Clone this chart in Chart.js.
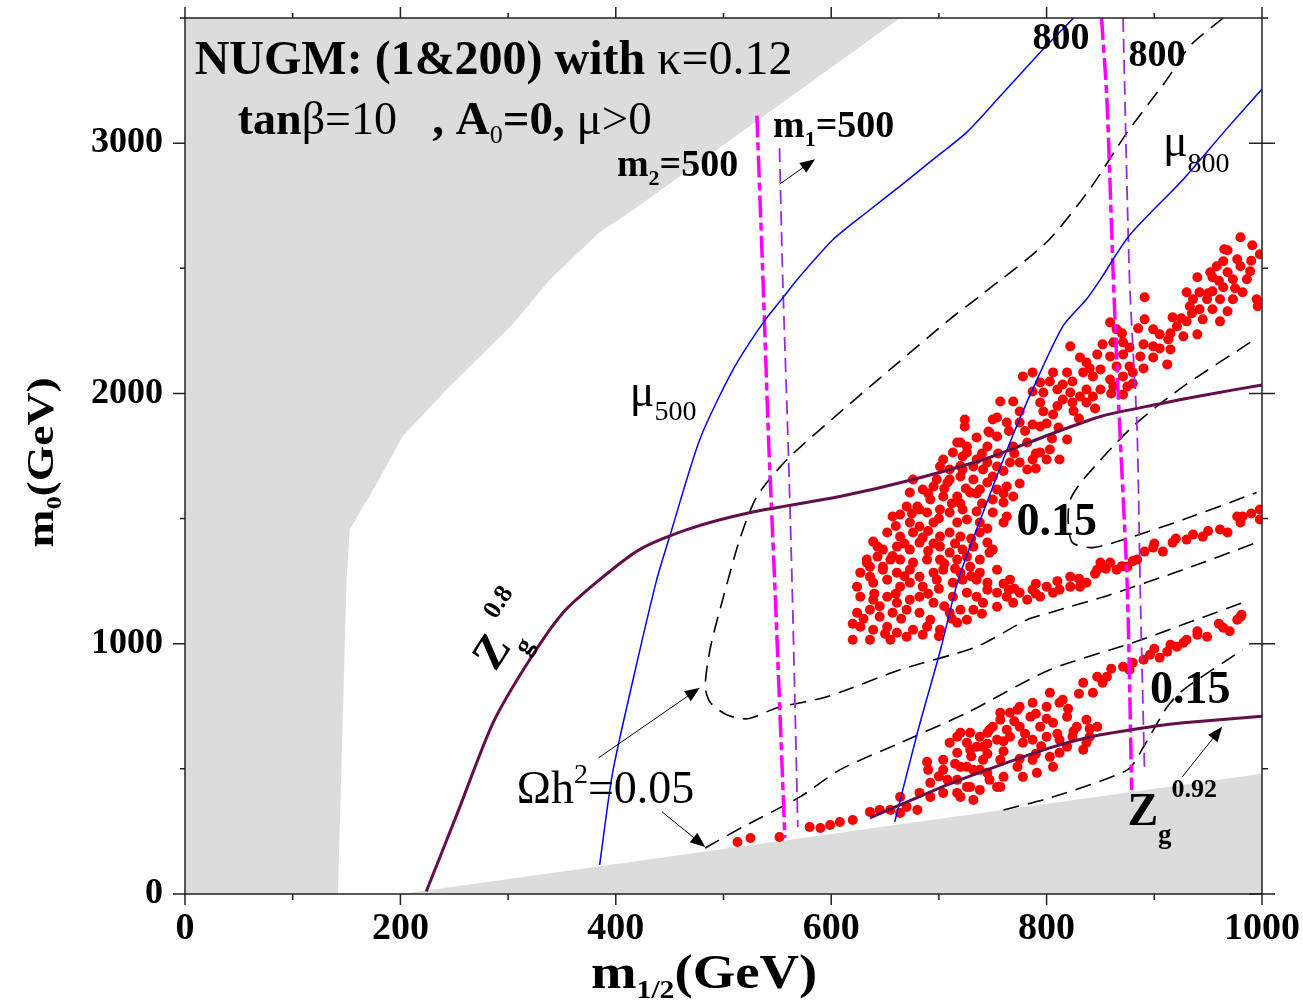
<!DOCTYPE html>
<html>
<head>
<meta charset="utf-8">
<title>NUGM m0 - m1/2 plane</title>
<script src="https://cdn.jsdelivr.net/npm/chart.js@4.4.1/dist/chart.umd.min.js"></script>
<style>
  html, body { margin: 0; padding: 0; background: #fff; }
  canvas { display: block; }
</style>
</head>
<body>
<canvas id="plane" width="1303" height="1006"></canvas>
<script>
// ---------- data (m1/2, m0) in GeV ----------

// excluded regions (grey)
const greyLeft = [[0,0],[142,0],[150,1256],[153,1456],[178,1640],[202,1828],[243,2016],[274,2148],[305,2280],[339,2456],[385,2644],[413,2724],[664,3500],[0,3500]];
const greyBottom = [[201,0],[1000,480],[1000,0]];

// mu contours
const mu500 = [[385,116],[397,484],[416,856],[438,1256],[450,1428],[478,1816],[509,2096],[537,2284],[554,2376],[571,2468],[602,2616],[633,2724],[664,2828],[695,2936],[726,3044],[757,3188],[797,3376],[825,3500]];
const mu800 = [[659,288],[680,644],[701,968],[718,1256],[741,1524],[766,1804],[787,2016],[815,2268],[837,2376],[850,2456],[877,2632],[927,2856],[967,3056],[1000,3216]];

// Z_g contours
const zg080 = [[224,10],[253,324],[286,684],[320,936],[351,1124],[385,1256],[422,1376],[466,1456],[525,1524],[608,1588],[676,1656],[747,1744],[803,1836],[850,1908],[902,1956],[950,1996],[1000,2034]];
const zg092 = [[636,304],[710,440],[760,520],[803,584],[850,636],[900,670],[927,684],[1000,710]];

// gaugino mass contours m2 (dash-dot) and m1 (dashed)
const m2at500 = [[531,3110],[537,2416],[542,1800],[548,1200],[557,224]];
const m1at500 = [[552,2980],[555,2456],[560,1800],[564,1188],[569,268]];
const m2at800 = [[851,3500],[856,3176],[862,2456],[868,1856],[875,1216],[879,416]];
const m1at800 = [[871,3500],[877,2456],[884,1856],[887,1204],[891,484]];

// relic density contours
const omegaA = [[964,3500],[933,3388],[912,3256],[875,3044],[840,2816],[800,2604],[740,2396],[710,2296],[657,2104],[608,1924],[559,1736],[531,1588],[515,1416],[500,1188],[488,988],[483,828],[488,764],[503,716],[522,700],[550,744],[596,788],[664,896],[735,988],[782,1096],[803,1124],[859,1196],[927,1296],[995,1404]];
const omegaB = [[483,184],[518,268],[571,388],[608,496],[664,604],[726,724],[803,896],[880,1004],[982,1164]];
const omegaC = [[760,336],[803,384],[875,496],[890,588],[912,748],[927,816],[982,976]];
const omegaU = [[989,2204],[927,2028],[880,1868],[834,1656],[822,1576],[820,1496],[824,1404],[843,1384],[877,1424],[927,1496],[995,1604]];

// scan points
const upperBand = [[980,2624],[991,2592],[998,2556],[968,2572],[965,2576],[977,2536],[964,2528],[958,2508],[952,2484],[968,2484],[980,2508],[989,2488],[940,2464],[954,2464],[973,2456],[986,2456],[930,2404],[942,2404],[954,2408],[964,2424],[982,2404],[936,2376],[949,2376],[961,2376],[973,2376],[995,2376],[996,2348],[933,2348],[942,2336],[954,2336],[968,2328],[891,2384],[917,2304],[930,2288],[945,2296],[961,2288],[891,2296],[899,2256],[921,2268],[927,2228],[940,2236],[905,2236],[913,2216],[890,2196],[899,2188],[915,2176],[887,2148],[899,2144],[912,2116],[859,2284],[865,2256],[852,2196],[862,2204],[871,2204],[877,2184],[847,2156],[859,2148],[871,2156],[865,2108],[877,2108],[880,2084],[871,2068],[859,2056],[875,2028],[862,2028],[871,1996],[850,2096],[837,2124],[831,2144],[843,2068],[834,2084],[824,2048],[815,2036],[822,2004],[837,2016],[850,2016],[837,1964],[843,1988],[831,1988],[819,2084],[822,2188],[806,2084],[803,2048],[810,2016],[794,2044],[797,2004],[778,2068],[787,2084],[787,2008],[769,1968],[757,1968],[775,1928],[794,1964],[797,1928],[806,1916],[815,1976],[824,1964],[754,1904],[763,1884],[775,1884],[787,1876],[794,1868],[811,1864],[819,1816],[724,1896],[724,1868],[746,1848],[754,1828],[735,1824],[717,1804],[726,1788],[745,1788],[769,1788],[782,1804],[794,1764],[803,1776],[800,1736],[812,1736],[787,1736],[775,1724],[782,1696],[704,1736],[713,1764],[722,1748],[735,1736],[745,1724],[701,1708],[710,1696],[722,1696],[732,1708],[741,1696],[754,1708],[766,1724],[750,1896],[747,1844],[720,1804],[726,1764],[708,1644],[695,1628],
  [720,1710],[760,1690],[790,1760],[805,1820],[830,1900],[845,1940],[860,2000],[880,2040],[890,2100],[905,2180],[925,2300],[950,2400],[960,2450],[975,2420],[990,2530],[935,2320],[915,2240],[870,2240],[885,2260],[840,2100],[825,1930],[810,1950],[800,1880],[780,1850],[765,1850],[740,1760],[755,1760],[790,1700],[770,1760]];

const blob = [[676,1656],[673,1604],[685,1616],[698,1656],[710,1656],[720,1668],[732,1656],[745,1644],[750,1668],[692,1576],[704,1588],[717,1588],[729,1604],[738,1616],[754,1616],[763,1628],[769,1588],[760,1564],[750,1576],[680,1548],[670,1548],[689,1524],[701,1536],[710,1524],[722,1536],[735,1528],[750,1524],[763,1508],[760,1484],[657,1508],[664,1516],[673,1484],[682,1468],[695,1484],[717,1484],[726,1496],[738,1484],[639,1408],[652,1444],[664,1428],[676,1444],[685,1424],[701,1428],[710,1444],[720,1428],[738,1444],[648,1376],[661,1388],[673,1376],[682,1404],[701,1388],[710,1364],[722,1376],[732,1388],[745,1404],[750,1376],[633,1336],[643,1348],[655,1336],[664,1336],[676,1324],[689,1336],[701,1336],[717,1336],[726,1348],[738,1336],[747,1364],[636,1308],[648,1296],[661,1284],[673,1296],[682,1268],[695,1284],[704,1296],[720,1284],[729,1308],[738,1284],[754,1296],[624,1228],[639,1244],[652,1256],[664,1228],[673,1244],[685,1228],[698,1256],[713,1244],[722,1256],[735,1256],[745,1244],[766,1256],[627,1188],[639,1176],[652,1188],[661,1164],[673,1176],[682,1188],[695,1164],[713,1188],[726,1204],[735,1188],[745,1216],[754,1204],[763,1188],[775,1204],[787,1216],[800,1228],[812,1216],[822,1268],[822,1228],[624,1124],[636,1136],[645,1108],[657,1124],[670,1136],[682,1124],[692,1096],[710,1124],[720,1136],[732,1136],[741,1164],[754,1148],[769,1164],[782,1176],[794,1188],[806,1204],[627,1068],[639,1056],[652,1068],[661,1044],[676,1056],[689,1068],[701,1056],[717,1084],[726,1096],[620,1016],[636,1016],[655,1016],[670,1028],[685,1036],[643,1388],[633,1324],[627,1284],[636,1268],[648,1308],[682,1536],
  [630,1100],[645,1150],[660,1200],[668,1270],[657,1350],[668,1400],[690,1450],[700,1500],[712,1560],[725,1620],[740,1560],[745,1460],[730,1420],[715,1400],[695,1400],[690,1370],[705,1320],[715,1300],[730,1270],[700,1220],[690,1200],[705,1150],[665,1100],[650,1040],[700,1030],[712,1100],[740,1120],[765,1215],[790,1200],[760,1240],[640,1200],[620,1080],[660,1470],[675,1520],[690,1600],[705,1620],[720,1560],[735,1600],[760,1600],[775,1640],
  [850,1324],[859,1324],[847,1296],[865,1296],[875,1308],[884,1336],[891,1368],[899,1384],[908,1368],[917,1404],[930,1416],[936,1436],[945,1428],[961,1456],[968,1444],[977,1508],[982,1508],[980,1484],[998,1536],[998,1496],[837,1244],[831,1228],
  [870,1310],[880,1330],[920,1420],[950,1450],[990,1520],[855,1300],[900,1400],[770,1220],[790,1240],[810,1250],[830,1260],[845,1280]];

const lowerBand = [[980,1108],[981,1116],[977,1096],[964,1064],[949,1028],[940,1036],[930,1016],[915,996],[927,1004],[921,988],[912,968],[905,944],[896,956],[890,936],[880,924],[871,908],[877,896],[856,868],[847,868],[852,844],[843,804],[834,844],[847,668],[840,628],[837,696],[828,668],[819,708],[812,764],[803,804],[800,748],[815,776],[787,764],[785,708],[775,748],[766,724],[757,696],[747,656],[738,628],[729,644],[717,628],[775,668],[794,668],[806,684],[824,628],[812,616],[800,628],[787,616],[778,604],[766,628],[754,616],[741,588],[729,576],[717,564],[726,508],[741,536],[757,536],[773,508],[787,536],[803,548],[819,588],[834,576],[837,604],[778,468],[791,484],[760,468],[747,456],[754,428],[738,496],[717,404],[729,428],[806,508],[812,564],[773,736],[757,724],[750,668],[745,644],[763,656],[720,644],[710,604],[726,604],[735,588],[704,536],[720,508],[732,496],[745,484],[689,528],[690,496],[704,496],[708,456],[717,456],[726,428],[738,416],[757,428],[682,404],[692,388],[704,404],[720,388],[732,376],[692,444],[664,388],[670,348],[680,336],[664,324],[655,336],[645,336],[636,328],[620,296],[608,288],[599,276],[590,264],[580,268],[552,228],[525,224],[513,208],
  [700,470],[715,520],[730,550],[745,560],[760,570],[775,540],[790,560],[795,590],[810,640],[825,650],[840,660],[780,640],[760,610],[745,600],[770,690],[790,720],[800,700],[820,740],[830,800],[860,900],[900,980],[940,1050],[960,1080],[970,1050]];

// ---------- styling ----------
const SERIF = '"Liberation Serif", "Times New Roman", serif';
const GREY = '#dcdcdc';
const ZG = '#650c4a';
const xy = arr => arr.map(([x, y]) => ({ x, y }));

function curve(pts, color, width, dash, order) {
  return {
    data: xy(pts), showLine: true, pointRadius: 0, borderColor: color,
    borderWidth: width, borderDash: dash || [], tension: 0.25, fill: false, order: order || 1
  };
}
function dots(pts) {
  return {
    data: xy(pts), showLine: false, pointRadius: 5, pointBackgroundColor: '#ff0000',
    pointBorderWidth: 0, order: 5
  };
}
function region(pts) {
  return {
    data: xy(pts), showLine: true, pointRadius: 0, borderWidth: 0, borderColor: GREY,
    backgroundColor: GREY, fill: 'shape', tension: 0, order: 10
  };
}

// text labels: anchor in data units, parts = [text, weight, size, dy]
const notes = [
  { at: [9, 3276], parts: [['NUGM: (1&200) with ', 'bold', 48], ['κ=0.12', 'normal', 48]] },
  { at: [49, 3036], parts: [['tan', 'bold', 46], ['β=10', 'normal', 46], ['   , A', 'bold', 47], ['0', 'normal', 26, 9], ['=0, ', 'bold', 47], ['μ>0', 'normal', 47]] },
  { at: [401, 2868], parts: [['m', 'bold', 38], ['2', 'bold', 22, 9], ['=500', 'bold', 38]] },
  { at: [546, 3024], parts: [['m', 'bold', 38], ['1', 'bold', 22, 9], ['=500', 'bold', 38]] },
  { at: [787, 3376], parts: [['800', 'bold', 38]] },
  { at: [876, 3308], parts: [['800', 'bold', 38]] },
  { at: [908, 2948], parts: [['μ', 'normal', 46], ['800', 'normal', 28, 16]] },
  { at: [413, 1948], parts: [['μ', 'normal', 46], ['500', 'normal', 28, 14]] },
  { at: [772, 1436], parts: [['0.15', 'bold', 46]] },
  { at: [896, 764], parts: [['0.15', 'bold', 46]] },
  { at: [308, 364], parts: [['Ωh', 'normal', 46], ['2', 'normal', 28, -20], ['=0.05', 'normal', 46]] },
  { at: [875, 276], parts: [['Z', 'bold', 46], ['g', 'bold', 27, 18], ['0.92', 'bold', 26, -28]] },
  { at: [288, 886], angle: -57, parts: [['Z', 'bold', 46], ['g', 'bold', 27, 18], ['0.8', 'bold', 26, -28]] }
];

// arrows: from -> to, data units
const arrows = [
  [[552, 2836], [585, 2936]],
  [[384, 544], [478, 824]],
  [[443, 328], [483, 188]],
  [[926, 468], [963, 668]]
];

function drawRich(ctx, x, y, parts, opt) {
  opt = opt || {};
  ctx.save();
  ctx.translate(x, y);
  if (opt.angle) ctx.rotate(opt.angle * Math.PI / 180);
  ctx.scale(opt.sx || 1, 1);
  let width = 0;
  parts.forEach(p => { ctx.font = `${p[1]} ${p[2]}px ${SERIF}`; width += ctx.measureText(p[0]).width; });
  let cx = opt.center ? -width / 2 : 0;
  ctx.fillStyle = '#000';
  ctx.textBaseline = 'alphabetic';
  parts.forEach(p => {
    ctx.font = `${p[1]} ${p[2]}px ${SERIF}`;
    ctx.fillText(p[0], cx, p[3] || 0);
    cx += ctx.measureText(p[0]).width;
  });
  ctx.restore();
}

function drawArrow(ctx, x1, y1, x2, y2) {
  const ang = Math.atan2(y2 - y1, x2 - x1);
  const len = 15, half = 6;
  ctx.beginPath();
  ctx.moveTo(x1, y1);
  ctx.lineTo(x2 - Math.cos(ang) * len * 0.8, y2 - Math.sin(ang) * len * 0.8);
  ctx.stroke();
  ctx.beginPath();
  ctx.moveTo(x2, y2);
  ctx.lineTo(x2 - Math.cos(ang) * len - Math.sin(ang) * half, y2 - Math.sin(ang) * len + Math.cos(ang) * half);
  ctx.lineTo(x2 - Math.cos(ang) * len + Math.sin(ang) * half, y2 - Math.sin(ang) * len - Math.cos(ang) * half);
  ctx.closePath();
  ctx.fill();
}

// frame, tick marks on all four sides, labels and axis titles
const overlay = {
  id: 'overlay',
  afterDatasetsDraw(chart) {
    const { ctx, chartArea: a, scales: { x, y } } = chart;
    ctx.save();
    ctx.strokeStyle = '#222';
    ctx.lineWidth = 1.5;
    ctx.strokeRect(a.left, a.top, a.right - a.left, a.bottom - a.top);

    ctx.beginPath();
    x.ticks.forEach(t => {
      const px = x.getPixelForValue(t.value);
      const major = t.value % 200 === 0;
      ctx.moveTo(px, a.bottom); ctx.lineTo(px, a.bottom + (major ? 11 : 6));
      ctx.moveTo(px, a.top); ctx.lineTo(px, a.top - (major ? 11 : 5));
    });
    y.ticks.forEach(t => {
      const py = y.getPixelForValue(t.value);
      const major = t.value % 1000 === 0;
      ctx.moveTo(a.left, py); ctx.lineTo(a.left - (major ? 12 : 5), py);
      if (major) { ctx.moveTo(a.right - 13, py); ctx.lineTo(a.right + 13, py); }
      else { ctx.moveTo(a.right, py); ctx.lineTo(a.right + 6, py); }
    });
    ctx.stroke();

    notes.forEach(n => {
      drawRich(ctx, x.getPixelForValue(n.at[0]), y.getPixelForValue(n.at[1]), n.parts, { angle: n.angle });
    });

    ctx.strokeStyle = '#000';
    ctx.fillStyle = '#000';
    ctx.lineWidth = 1;
    arrows.forEach(([p, q]) => {
      drawArrow(ctx, x.getPixelForValue(p[0]), y.getPixelForValue(p[1]), x.getPixelForValue(q[0]), y.getPixelForValue(q[1]));
    });

    // axis titles
    drawRich(ctx, x.getPixelForValue(482), a.bottom + 94,
      [['m', 'bold', 48], ['1/2', 'bold', 26, 10], ['(GeV)', 'bold', 48]], { center: true, sx: 1.14 });
    drawRich(ctx, 53, y.getPixelForValue(1724),
      [['m', 'bold', 38], ['0', 'bold', 22, 8], ['(GeV)', 'bold', 38]], { center: true, angle: -90, sx: 1.2 });
    ctx.restore();
  }
};

new Chart(document.getElementById('plane'), {
  type: 'scatter',
  data: {
    datasets: [
      curve(zg080, ZG, 3),
      curve(zg092, ZG, 3),
      curve(mu500, '#0000ff', 1.5),
      curve(mu800, '#0000ff', 1.5),
      curve(m2at500, '#ff00ff', 3.5, [22, 5, 8, 5]),
      curve(m2at800, '#ff00ff', 3.5, [22, 5, 8, 5]),
      curve(m1at500, '#9a2be0', 1.8, [14, 7]),
      curve(m1at800, '#9a2be0', 1.8, [14, 7]),
      curve(omegaA, '#000', 1.6, [16, 9], 2),
      curve(omegaB, '#000', 1.6, [16, 9], 2),
      curve(omegaC, '#000', 1.6, [16, 9], 2),
      curve(omegaU, '#000', 1.6, [16, 9], 2),
      dots(upperBand),
      dots(blob),
      dots(lowerBand),
      region(greyLeft),
      region(greyBottom)
    ]
  },
  options: {
    responsive: false,
    animation: false,
    devicePixelRatio: 1,
    layout: { padding: { top: 18, right: 41, left: 0, bottom: 0 } },
    plugins: { legend: { display: false }, tooltip: { enabled: false } },
    scales: {
      x: {
        type: 'linear', min: 0, max: 1000,
        afterFit: s => { s.height = 112; s.paddingLeft = 0; s.paddingRight = 0; },
        grid: { display: false, drawTicks: false },
        border: { display: false },
        ticks: {
          stepSize: 100, autoSkip: false, maxRotation: 0, padding: 12, color: '#000',
          font: { family: SERIF, size: 38, weight: 'bold' },
          callback: v => (v % 200 === 0 ? v : '')
        }
      },
      y: {
        type: 'linear', min: 0, max: 3500,
        afterFit: s => { s.width = 185; s.paddingTop = 0; s.paddingBottom = 0; },
        grid: { display: false, drawTicks: false },
        border: { display: false },
        ticks: {
          stepSize: 500, autoSkip: false, padding: 22, color: '#000',
          font: { family: SERIF, size: 36, weight: 'bold' },
          callback: v => (v % 1000 === 0 ? v : '')
        }
      }
    }
  },
  plugins: [overlay]
});
</script>
</body>
</html>
